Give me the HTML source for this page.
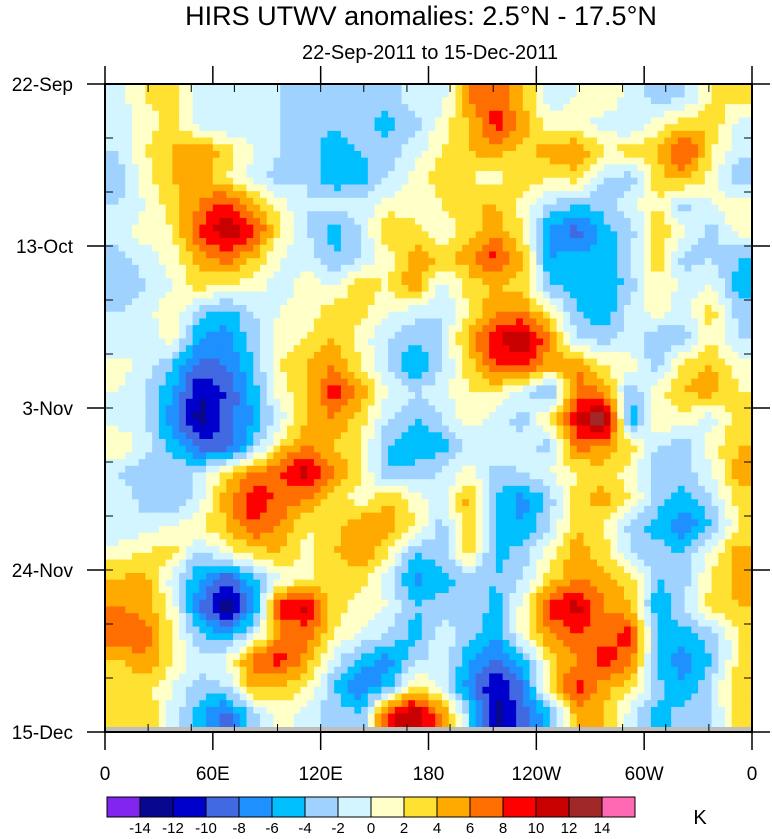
<!DOCTYPE html>
<html><head><meta charset="utf-8">
<style>
body{margin:0;background:#fff;width:772px;height:834px;overflow:hidden;font-family:"Liberation Sans",sans-serif;}
svg text{font-family:"Liberation Sans",sans-serif;fill:#000;}
</style></head>
<body>
<svg id="chart" width="772" height="834" viewBox="0 0 772 834" xmlns="http://www.w3.org/2000/svg">
<text x="421" y="25" font-size="27" text-anchor="middle">HIRS UTWV anomalies: 2.5°N - 17.5°N</text>
<text x="430" y="59" font-size="20" text-anchor="middle">22-Sep-2011 to 15-Dec-2011</text>
<g id="cells"></g>
<rect x="105" y="727" width="647" height="5" fill="#bebebe"/>
<g id="axes"></g>
<g id="cbar"></g>
<text x="700" y="824" font-size="20" text-anchor="middle">K</text>
</svg>
<script>
const rowLabels = ["22-Sep","13-Oct","3-Nov","24-Nov","15-Dec"];
const colLabels = ["0","60E","120E","180","120W","60W","0"];
const levels = [-14,-12,-10,-8,-6,-4,-2,0,2,4,6,8,10,12,14];
const levelColors = ["#8024ee","#08088f","#0000cd","#4169e1","#1e90ff","#00bfff","#a0d2ff","#d2f5ff","#ffffc8","#ffe132","#ffaa00","#ff6e00","#ff0000","#c80000","#a02828","#ff69b4"];
const grid = [
[-1,2,3,-1,-2,-1,-2,-4,-3,-2,-3,-1,-1,6,8,4,-1,0,2,-1,-3,-2,2,3],
[-1,1,3,-1,-2,-1,-2,-3,-4,-3,-5,-3,1,4,9,5,1,1,-1,-2,1,3,4,-1],
[-2,2,4,6,3,0,-2,-3,-5,-4,-3,-1,2,4,5,3,5,6,2,3,4,9,2,-1],
[-3,1,4,5,2,-1,-3,-2,-6,-5,-2,1,3,2,1,4,2,3,-2,-3,3,5,1,-4],
[-2,0,3,6,9,5,1,-2,-1,-1,1,0,2,4,4,1,-2,-4,-3,-1,2,-3,0,2],
[-1,1,2,8,12,9,2,-2,-5,-2,4,3,0,3,5,2,-7,-9,-5,-3,4,0,-3,1],
[-3,-1,1,5,7,4,0,-1,-4,-2,1,5,4,5,9,4,-6,-5,-6,-2,3,-3,-2,-4],
[-4,-2,0,3,2,1,-1,1,0,3,2,6,-1,3,4,3,-4,-5,-6,-3,2,-1,0,-5],
[-2,-1,2,-3,-5,-2,0,1,3,3,0,-1,-2,2,6,6,2,-4,-6,-1,1,-1,3,-3],
[-2,-1,1,-6,-7,-3,1,2,4,1,-2,-4,-2,5,10,12,6,-2,-3,-1,-4,-3,2,-2],
[1,-1,-4,-9,-8,-4,2,4,6,2,-2,-6,-2,3,8,9,5,6,2,1,-3,3,4,1],
[0,-2,-6,-12,-10,-5,1,4,9,5,0,-2,-1,2,2,-1,-5,7,6,-4,1,4,5,2],
[-1,-2,-7,-13,-9,-6,-1,4,6,3,-2,-4,-2,1,-1,-3,3,10,15,-6,2,1,-1,3],
[2,-1,-5,-9,-10,-4,3,6,4,2,-4,-6,-5,-2,0,-1,-3,7,6,3,-2,-3,1,4],
[-2,-4,-2,-2,3,6,8,11,6,2,-4,-3,-2,1,-3,-2,0,2,3,1,-4,-3,0,5],
[0,-3,-4,-1,5,10,7,6,3,1,4,1,-1,5,-4,-7,-3,3,5,2,-3,-5,-2,3],
[-2,-1,0,2,4,8,6,2,3,6,5,2,-3,4,-5,-6,-2,4,2,-3,-5,-8,-4,2],
[1,2,3,-3,1,3,4,1,4,6,2,-4,-3,3,-5,-3,1,5,3,-2,-3,-4,1,5],
[4,5,-1,-6,-10,-5,0,2,2,3,-1,-7,-5,-3,-4,-2,3,6,5,3,-4,-3,2,5],
[6,5,1,-8,-14,-7,9,11,3,1,0,-4,-3,-2,-5,1,9,11,6,4,-6,-2,3,4],
[8,7,2,-4,-6,-2,6,7,2,0,-2,-5,-1,-3,-6,1,6,8,7,9,-4,-5,-3,2],
[4,6,2,-1,0,7,9,5,-1,-5,-7,-3,0,-6,-8,-5,3,6,9,7,-5,-7,-4,2],
[2,3,0,-3,-2,5,4,2,-4,-8,-5,3,-1,-7,-12,-8,3,9,5,3,-3,-6,-2,4],
[3,4,-1,-5,-9,-3,1,-1,-3,-4,9,12,6,-3,-13,-9,-5,5,4,-1,-5,-3,-2,3]
];
const NS="http://www.w3.org/2000/svg";
const X0=105,X1=752,Y0=84,Y1=727;
const nR=grid.length,nC=grid[0].length;
function xScale(c){return X0+(X1-X0)*c/nC;}
function yScale(r){return Y0+(Y1-Y0)*r/nR;}
function colorFor(v){let i=0;while(i<levels.length&&v>=levels[i])i++;return levelColors[i];}
function val(r,c){r=Math.max(0,Math.min(nR-1,r));c=Math.max(0,Math.min(nC-1,c));return grid[r][c];}
const sub=4;
const cells=document.getElementById('cells');
for(let r=0;r<nR;r++)for(let c=0;c<nC;c++)for(let a=0;a<sub;a++)for(let b=0;b<sub;b++){
 const fr=r+(a+0.5)/sub-0.5, fc=c+(b+0.5)/sub-0.5;
 const r0=Math.floor(fr),c0=Math.floor(fc),tr=fr-r0,tc=fc-c0;
 const v=(1-tr)*((1-tc)*val(r0,c0)+tc*val(r0,c0+1))+tr*((1-tc)*val(r0+1,c0)+tc*val(r0+1,c0+1));
 const x=xScale(c+b/sub),y=yScale(r+a/sub);
 const el=document.createElementNS(NS,'rect');
 
 
 el.setAttribute('x',x.toFixed(2));el.setAttribute('y',y.toFixed(2));
 el.setAttribute('width',((X1-X0)/nC/sub+0.6).toFixed(2));el.setAttribute('height',((Y1-Y0)/nR/sub+0.6).toFixed(2));
 el.setAttribute('fill',colorFor(v));
 cells.appendChild(el);
}
const axes=document.getElementById('axes');
function line(x1,y1,x2,y2,w,name){const l=document.createElementNS(NS,'line');
 
 
 l.setAttribute('x1',x1);l.setAttribute('y1',y1);l.setAttribute('x2',x2);l.setAttribute('y2',y2);l.setAttribute('stroke','#000');l.setAttribute('stroke-width',w);axes.appendChild(l);}
function text(x,y,s,sz,anchor,name){const t=document.createElementNS(NS,'text');
 
 
 t.setAttribute('x',x);t.setAttribute('y',y);t.setAttribute('font-size',sz);t.setAttribute('text-anchor',anchor);t.textContent=s;axes.appendChild(t);}
const YB=732;
const frame=document.createElementNS(NS,'rect');


frame.setAttribute('x',X0);frame.setAttribute('y',Y0);frame.setAttribute('width',X1-X0);frame.setAttribute('height',YB-Y0);frame.setAttribute('fill','none');frame.setAttribute('stroke','#000');frame.setAttribute('stroke-width',2);axes.appendChild(frame);
for(let i=1;i<12;i++){const y=Y0+(YB-Y0)*i/12;line(X0,y,X0+8,y,1,'y-minor-tick');line(X1-8,y,X1,y,1,'y-minor-tick');}
rowLabels.forEach((s,i)=>{const y=Y0+(YB-Y0)*i/(rowLabels.length-1);line(X0-18,y,X0,y,1.5,'y-major-tick');line(X1,y,X1+18,y,1.5,'y-major-tick');text(73,y+7,s,19,'end','y-tick-label');});
for(let i=1;i<15;i++){const x=X0+(X1-X0)*i/15;line(x,Y0,x,Y0+8,1,'x-minor-tick');line(x,YB-8,x,YB,1,'x-minor-tick');}
colLabels.forEach((s,i)=>{const x=X0+(X1-X0)*i/(colLabels.length-1);line(x,YB,x,YB+18,1.5,'x-major-tick');line(x,Y0-18,x,Y0,1.5,'x-major-tick');text(x,YB+48,s,19,'middle','x-tick-label');});
const cbar=document.getElementById('cbar');
const CX0=107,CX1=635,CY=797,CH=20,bw=(CX1-CX0)/levelColors.length;
levelColors.forEach((col,i)=>{const r=document.createElementNS(NS,'rect');
 
 
 r.setAttribute('x',CX0+i*bw);r.setAttribute('y',CY);r.setAttribute('width',bw);r.setAttribute('height',CH);r.setAttribute('fill',col);r.setAttribute('stroke','#000');r.setAttribute('stroke-width',1);cbar.appendChild(r);});
levels.forEach((lv,i)=>{const t=document.createElementNS(NS,'text');
 
 
 t.setAttribute('x',CX0+(i+1)*bw);t.setAttribute('y',833);t.setAttribute('font-size',15);t.setAttribute('text-anchor','middle');t.textContent=lv;cbar.appendChild(t);});
</script>
</body></html>
